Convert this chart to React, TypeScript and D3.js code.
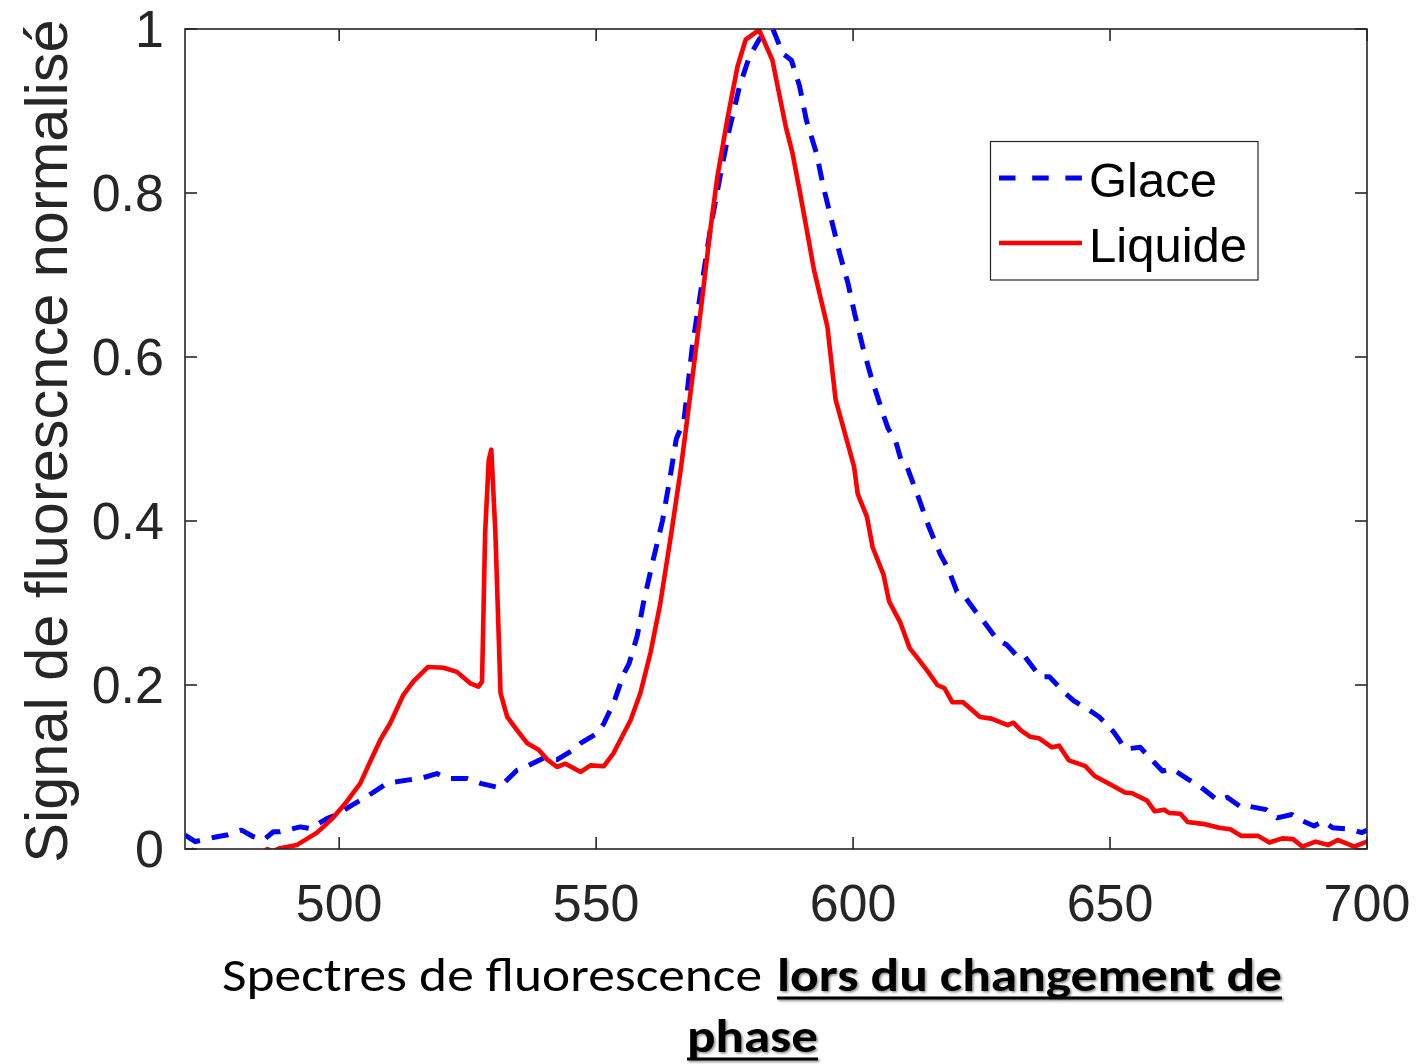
import React from "react";
import * as d3 from "d3";

// ---- Data ----
const glaceX = [470, 472, 476.2, 478.1, 481, 483.3, 485.3, 487.2, 488.5, 492.4, 494.4, 497.6, 499.9, 502.1, 505.4, 509.3, 513.2, 515.8, 519, 521, 524.9, 527.5, 531, 532.3, 534.6, 536.9, 539.8, 542.4, 545.6, 547, 550.2, 551.5, 553.4, 555.4, 556.4, 558, 559.2, 561, 562.9, 564.3, 565.6, 567.1, 568.7, 570.7, 572.3, 574, 575.9, 577.9, 579.8, 581.8, 583.5, 584.4, 586.3, 588, 589.6, 590.9, 592.9, 594.2, 595.8, 597.4, 599, 600.3, 601.9, 603.5, 605.8, 606.8, 608.3, 609.4, 610.5, 611.2, 612.7, 614.8, 617, 618.4, 620.2, 621.7, 623.8, 625.6, 628.1, 629.9, 632.4, 633.5, 636.4, 638.2, 641.1, 642.9, 646.5, 647.9, 650.8, 653, 655.9, 657.3, 660.2, 662, 665.2, 667.4, 671, 672.8, 675.7, 677.1, 680.4, 682.5, 685.4, 686.8, 689.7, 691.5, 693.3, 696.9, 699, 700];
const glaceY = [0.017, 0.009, 0.015, 0.017, 0.023, 0.015, 0.011, 0.021, 0.021, 0.027, 0.025, 0.037, 0.043, 0.052, 0.064, 0.08, 0.084, 0.086, 0.092, 0.086, 0.086, 0.08, 0.075, 0.082, 0.096, 0.102, 0.111, 0.109, 0.121, 0.129, 0.141, 0.153, 0.178, 0.214, 0.226, 0.26, 0.3, 0.35, 0.4, 0.45, 0.5, 0.523, 0.612, 0.694, 0.759, 0.816, 0.877, 0.93, 0.966, 0.988, 0.998, 1.0, 0.97, 0.962, 0.93, 0.889, 0.848, 0.808, 0.767, 0.726, 0.69, 0.653, 0.612, 0.576, 0.531, 0.513, 0.497, 0.473, 0.466, 0.454, 0.429, 0.392, 0.359, 0.343, 0.314, 0.308, 0.29, 0.276, 0.255, 0.249, 0.232, 0.234, 0.21, 0.21, 0.191, 0.181, 0.167, 0.161, 0.142, 0.122, 0.124, 0.114, 0.095, 0.098, 0.085, 0.077, 0.059, 0.063, 0.05, 0.052, 0.048, 0.038, 0.042, 0.036, 0.028, 0.034, 0.026, 0.024, 0.02, 0.023];

const liquideX = [470, 471.5, 473, 476, 480, 484, 486, 487, 488.5, 491.8, 495.7, 498.8, 501.5, 504.1, 506, 508, 509.9, 512.5, 514.4, 517.3, 520.3, 522.9, 525.5, 527.1, 527.8, 528.4, 529.1, 529.6, 530.4, 531.4, 532.7, 534.6, 536.6, 538.8, 540.5, 542.4, 544, 547, 548.9, 551.5, 553.4, 556.7, 558.6, 560.6, 562.5, 564.5, 566.4, 567.7, 570.3, 572.3, 573.6, 575.5, 577.5, 579.1, 581.7, 584.3, 586.9, 588.2, 589.8, 592.4, 595, 596.6, 598.4, 600.2, 600.9, 602.7, 603.8, 605.9, 607, 609.2, 611, 612.4, 614.6, 616.4, 617.8, 619.3, 621.4, 624.7, 626.9, 630.1, 631.2, 632.6, 634.4, 636.2, 638.7, 640.1, 642, 645.2, 647, 650, 652.9, 654.3, 657.2, 658.7, 660.5, 661.5, 663.7, 665.1, 668.7, 671.2, 673.4, 675.5, 678.8, 681, 683.5, 685.6, 687.4, 690, 692.5, 694.3, 697.5, 700];
const liquideY = [-0.01, -0.001, -0.01, -0.02, -0.015, -0.01, 0.0, -0.003, 0.001, 0.005, 0.02, 0.038, 0.058, 0.08, 0.106, 0.133, 0.153, 0.188, 0.204, 0.222, 0.221, 0.216, 0.202, 0.198, 0.204, 0.385, 0.474, 0.487, 0.385, 0.19, 0.161, 0.145, 0.129, 0.121, 0.109, 0.1, 0.104, 0.094, 0.102, 0.101, 0.117, 0.157, 0.19, 0.24, 0.3, 0.38, 0.46, 0.523, 0.654, 0.759, 0.82, 0.889, 0.954, 0.987, 0.999, 0.962, 0.881, 0.849, 0.796, 0.706, 0.637, 0.548, 0.507, 0.466, 0.433, 0.405, 0.368, 0.335, 0.302, 0.276, 0.245, 0.234, 0.216, 0.2, 0.196, 0.179, 0.179, 0.161, 0.159, 0.151, 0.154, 0.145, 0.137, 0.135, 0.124, 0.126, 0.108, 0.101, 0.089, 0.079, 0.069, 0.068, 0.059, 0.046, 0.048, 0.044, 0.043, 0.033, 0.03, 0.026, 0.024, 0.016, 0.016, 0.008, 0.013, 0.012, 0.003, 0.009, 0.005, 0.011, 0.003, 0.009];

const xTicks = [500, 550, 600, 650, 700];
const yTicks = [0, 0.2, 0.4, 0.6, 0.8, 1];
const yTickLabels = ["0", "0.2", "0.4", "0.6", "0.8", "1"];
const seriesNames = ["Glace", "Liquide"];
const yLabel = "Signal de fluorescnce normalisé";
const xLabelPlain = "Spectres de fluorescence ";
const xLabelBold1 = "lors du changement de";
const xLabelBold2 = "phase";

const W = 1421;
const H = 1064;
const L = 185, R = 1367, T = 29, B = 849;
const AX = "#262626";
const TICK_FONT = "'Liberation Sans', Arial, Helvetica, sans-serif";

export default function App() {
  const x = d3.scaleLinear().domain([470, 700]).range([L, R]);
  const y = d3.scaleLinear().domain([0, 1]).range([B, T]);

  const glacePath = d3
    .line<number>()
    .x((d) => x(d))
    .y((_, i) => y(glaceY[i]))(glaceX) as string;
  const liquidePath = d3
    .line<number>()
    .x((d) => x(d))
    .y((_, i) => y(liquideY[i]))(liquideX) as string;

  const tickLen = 12;
  const labelFont = "Carlito, 'Liberation Sans Narrow', 'Liberation Sans', sans-serif";

  return (
    <svg
      width={W}
      height={H}
      style={{ position: "absolute", left: 0, top: 0, background: "#fff" }}
    >
      <defs>
        <clipPath id="plotclip">
          <rect x={L} y={T} width={R - L} height={B - T} />
        </clipPath>
        <filter id="shadow" x="-5%" y="-20%" width="110%" height="150%">
          <feDropShadow dx="1.5" dy="1.5" stdDeviation="1" floodColor="#000" floodOpacity="0.45" />
        </filter>
      </defs>
      <rect x={0} y={0} width={W} height={H} fill="#fff" />

      {/* curves */}
      <g clipPath="url(#plotclip)" fill="none">
        <path d={glacePath} stroke="#0000ff" strokeWidth={5} strokeDasharray="17 12" strokeLinejoin="round" />
        <path d={liquidePath} stroke="#ff0000" strokeWidth={4.6} strokeLinejoin="round" />
      </g>

      {/* axes box */}
      <rect x={L} y={T} width={R - L} height={B - T} fill="none" stroke={AX} strokeWidth={1.6} />

      {/* x ticks */}
      {xTicks.map((t) => (
        <g key={"xt" + t}>
          <line x1={x(t)} x2={x(t)} y1={B} y2={B - tickLen} stroke={AX} strokeWidth={1.6} />
          <line x1={x(t)} x2={x(t)} y1={T} y2={T + tickLen} stroke={AX} strokeWidth={1.6} />
          <text x={x(t)} y={921} textAnchor="middle" fontFamily={TICK_FONT} fontSize={52} fill={AX}>
            {t}
          </text>
        </g>
      ))}

      {/* y ticks */}
      {yTicks.map((t, i) => (
        <g key={"yt" + t}>
          <line x1={L} x2={L + tickLen} y1={y(t)} y2={y(t)} stroke={AX} strokeWidth={1.6} />
          <line x1={R} x2={R - tickLen} y1={y(t)} y2={y(t)} stroke={AX} strokeWidth={1.6} />
          <text x={164} y={y(t) + 18} textAnchor="end" fontFamily={TICK_FONT} fontSize={52} fill={AX}>
            {yTickLabels[i]}
          </text>
        </g>
      ))}

      {/* y label */}
      <text
        transform={`translate(67, ${(T + B) / 2 + 2}) rotate(-90)`}
        textAnchor="middle"
        fontFamily={TICK_FONT}
        fontSize={59.5}
        fill={AX}
      >
        {yLabel}
      </text>

      {/* legend */}
      <g>
        <rect x={990.5} y={141.5} width={267.5} height={138.5} fill="#fff" stroke={AX} strokeWidth={1.2} />
        <line x1={999} x2={1082} y1={178} y2={178} stroke="#0000ff" strokeWidth={5} strokeDasharray="16.5 16.7" />
        <line x1={999} x2={1082} y1={243} y2={243} stroke="#ff0000" strokeWidth={4.6} />
        <text x={1089} y={196.5} fontFamily={TICK_FONT} fontSize={49} fill="#000">
          {seriesNames[0]}
        </text>
        <text x={1089} y={261.5} fontFamily={TICK_FONT} fontSize={49} fill="#000">
          {seriesNames[1]}
        </text>
      </g>

      {/* x label */}
      <g fontFamily={labelFont} fill="#000">
        <text x={222} y={991} fontSize={47} textLength={540} lengthAdjust="spacingAndGlyphs">
          {xLabelPlain}
        </text>
        <g filter="url(#shadow)">
          <text x={777} y={991} fontSize={47} fontWeight="bold" textLength={505} lengthAdjust="spacingAndGlyphs">
            {xLabelBold1}
          </text>
          <line x1={777} x2={1282} y1={998} y2={998} stroke="#000" strokeWidth={3} />
          <text x={687} y={1052} fontSize={47} fontWeight="bold" textLength={131} lengthAdjust="spacingAndGlyphs">
            {xLabelBold2}
          </text>
          <line x1={687} x2={818} y1={1059} y2={1059} stroke="#000" strokeWidth={3} />
        </g>
      </g>
    </svg>
  );
}
